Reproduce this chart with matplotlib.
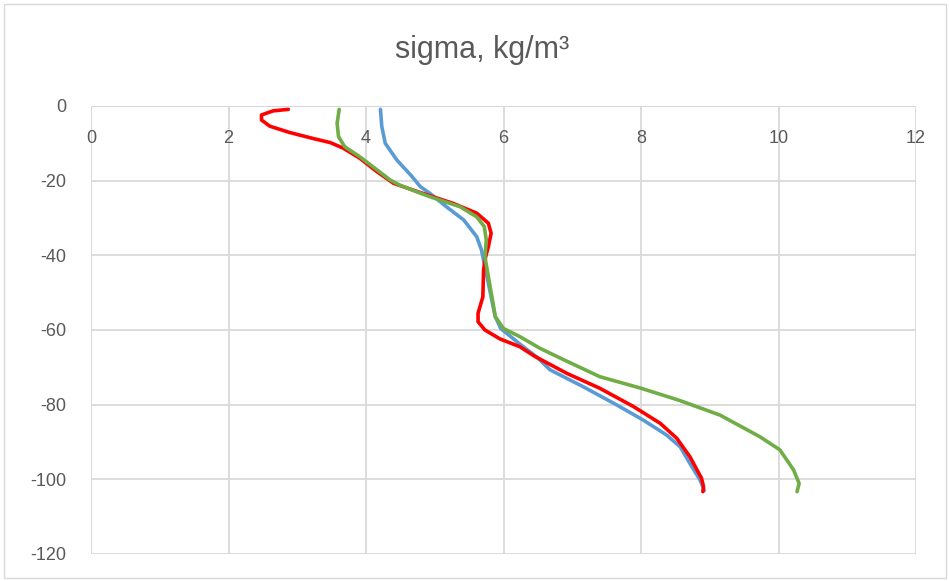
import matplotlib.pyplot as plt
from matplotlib.patches import Rectangle

# depth (m) and density sigma (kg/m3)
depth_blue = [-0.9, -5.5, -10, -14.5, -18.7, -21.6, -23.4, -27.0, -30.5, -35.0, -38.6, -40.4, -45.7, -52, -56.4,
              -59.6, -63.8, -67.2, -70.7, -75.2, -80.1, -84.1, -88.1, -91.3, -95.7, -100.2, -103]
sigma_blue = [4.21, 4.23, 4.28, 4.45, 4.66, 4.79, 4.93, 5.17, 5.42, 5.61, 5.68, 5.70, 5.76, 5.83, 5.88,
              5.96, 6.24, 6.48, 6.68, 7.16, 7.65, 8.03, 8.37, 8.57, 8.71, 8.86, 8.92]

depth_red = [-0.9, -1.3, -2.4, -3.75, -5.4, -7.1, -8.7, -9.8, -11.3, -14.0, -17.6, -20.7, -23.0, -26.1, -28.7,
             -31.4, -34.1, -37.7, -40.4, -43.9, -51.1, -55.5, -57.8, -60, -62.4, -64.5, -67.0, -71.6, -75.6,
             -80.5, -85.0, -89.0, -93.9, -99.7, -102, -103.3]
sigma_red = [2.87, 2.65, 2.48, 2.48, 2.60, 2.89, 3.23, 3.48, 3.67, 3.91, 4.16, 4.40, 4.76, 5.27, 5.61,
             5.78, 5.82, 5.78, 5.74, 5.71, 5.70, 5.63, 5.63, 5.73, 5.95, 6.24, 6.45, 6.92, 7.40,
             7.89, 8.28, 8.52, 8.71, 8.88, 8.91, 8.90]

depth_green = [-0.9, -4.6, -8.2, -10.9, -13.6, -17.1, -19.8, -21.2, -23.0, -24.3, -27.0, -29.7, -32.3, -35.9,
               -40.4, -45.7, -52, -56.4, -59.6, -61.8, -64.9, -68.0, -72.5, -75.6, -78.8, -82.8, -88.6, -92.1,
               -97.5, -101.1, -103.3]
sigma_green = [3.61, 3.58, 3.60, 3.69, 3.91, 4.16, 4.35, 4.49, 4.74, 4.93, 5.37, 5.61, 5.72, 5.75,
               5.73, 5.78, 5.84, 5.88, 6.00, 6.24, 6.53, 6.88, 7.40, 8.00, 8.55, 9.15, 9.73, 10.02,
               10.22, 10.30, 10.27]

x_ticks = [0, 2, 4, 6, 8, 10, 12]
y_ticks = [0, -20, -40, -60, -80, -100, -120]

plt.rcParams['font.family'] = ['Liberation Sans', 'DejaVu Sans']

fig = plt.figure(figsize=(9.49, 5.81), dpi=100)
ax = fig.add_axes([91/949, 27/581, 825/949, 448/581])

style = dict(lw=2.6, solid_capstyle='round', solid_joinstyle='round')
ax.plot(sigma_blue, depth_blue, color='#5B9BD5', **style)
ax.plot(sigma_red, depth_red, color='#FF0000', **style)
ax.plot(sigma_green, depth_green, color='#70AD47', **style)

ax.set_xlim(0, 12)
ax.set_ylim(-120, 0)
ax.set_xticks(x_ticks)
ax.set_yticks(y_ticks)
ax.set_yticklabels([str(v) for v in y_ticks])
ax.grid(color='#d9d9d9', lw=1.3)
ax.set_axisbelow(True)
for s in ax.spines.values():
    s.set_visible(False)
# axis lines (x axis crosses at 0, y axis at 0)
ax.axhline(0, color='#bfbfbf', lw=1.3, zorder=0.5)
ax.axvline(0, color='#bfbfbf', lw=1.3, zorder=0.5)

ax.tick_params(axis='x', top=False, bottom=False, labeltop=True, labelbottom=False,
               pad=-33, labelsize=13, colors='#595959')
ax.tick_params(axis='y', left=False, pad=14, labelsize=13, colors='#595959')

fig.text(482/949, 1 - 50/581, 'sigma, kg/m³', ha='center', va='center', fontsize=22, color='#595959')

fig.patches.append(Rectangle((4/949, 3/581), 942/949, 574/581, transform=fig.transFigure,
                             fill=False, edgecolor='#d9d9d9', lw=1))

plt.savefig('out.png', dpi=100)
